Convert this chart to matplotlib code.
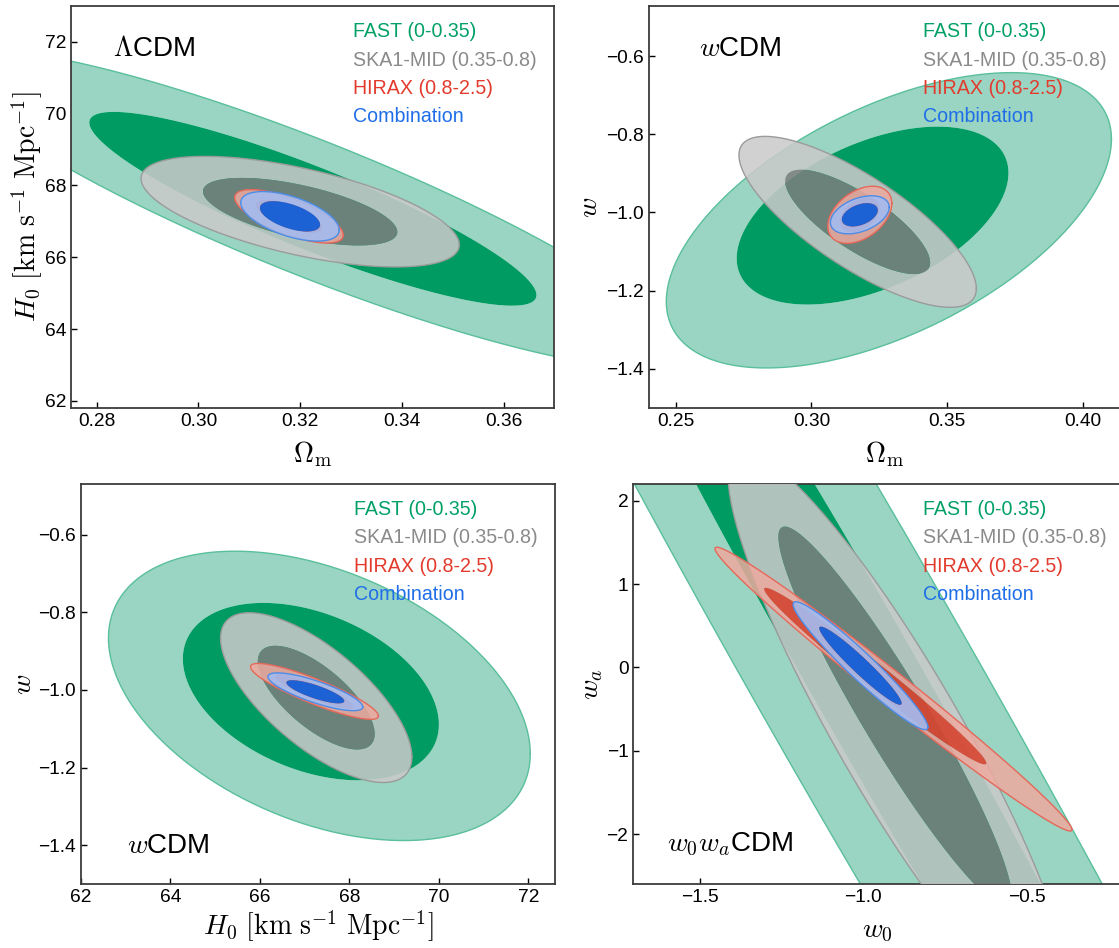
import numpy as np
import matplotlib
matplotlib.use("Agg")
import matplotlib.pyplot as plt
from matplotlib.path import Path
from matplotlib.patches import PathPatch

plt.rcParams['font.family'] = ['Liberation Sans', 'DejaVu Sans']
plt.rcParams['mathtext.fontset'] = 'cm'

# surveys, drawn in this order
names = ["FAST (0-0.35)", "SKA1-MID (0.35-0.8)", "HIRAX (0.8-2.5)", "Combination"]
text_colors = ["#00a066", "#8a8a8a", "#e23a2c", "#1f6ee8"]
inner_colors = ["#009b62", "#7e7e7e", "#d9442f", "#1d62d4"]
outer_colors = ["#99d5c2", "#cacaca", "#eeaa9f", "#a4bcf0"]
edge_colors = ["#5abf9b", "#9b9b9b", "#e5685a", "#4d8ce6"]
inner_alpha = [1.0, 0.85, 0.9, 1.0]
outer_alpha = [1.0, 0.87, 0.85, 0.9]

chi2_1s = 2.30
chi2_2s = 6.17

# contours: (x0, y0, sigma_x, sigma_y, rho) for the 1-sigma and 2-sigma line
# LCDM: Omega_m vs H0
lcdm_fast = [(0.3225, 67.35, 0.029, 1.78, -0.89), (0.3225, 67.35, 0.029, 1.78, -0.89)]
lcdm_ska = [(0.320, 67.27, 0.0126, 0.62, -0.60), (0.320, 67.27, 0.0126, 0.62, -0.60)]
lcdm_hirax = [(0.3178, 67.14, 0.0043, 0.30, -0.70), (0.3178, 67.14, 0.0043, 0.30, -0.70)]
lcdm_comb = [(0.3180, 67.14, 0.0039, 0.278, -0.55), (0.3180, 67.14, 0.0039, 0.278, -0.55)]

# wCDM: Omega_m vs w
wom_fast = [(0.3225, -1.008, 0.033, 0.150, 0.48), (0.3285, -1.020, 0.033, 0.152, 0.55)]
wom_ska = [(0.317, -1.024, 0.0176, 0.088, -0.78), (0.317, -1.024, 0.0176, 0.088, -0.78)]
wom_hirax = [(0.3178, -1.006, 0.00475, 0.0294, 0.40), (0.3178, -1.006, 0.00475, 0.0294, 0.40)]
wom_comb = [(0.3178, -1.006, 0.00436, 0.0196, 0.40), (0.3178, -1.006, 0.00436, 0.0196, 0.40)]

# wCDM: H0 vs w
wh0_fast = [(67.14, -1.0045, 1.885, 0.1506, -0.37), (67.33, -1.0155, 1.896, 0.150, -0.40)]
wh0_ska = [(67.26, -1.020, 0.86, 0.088, -0.70), (67.26, -1.020, 0.86, 0.088, -0.70)]
wh0_hirax = [(67.22, -1.004, 0.575, 0.029, -0.88), (67.22, -1.004, 0.575, 0.029, -0.88)]
wh0_comb = [(67.24, -1.005, 0.426, 0.0196, -0.80), (67.24, -1.005, 0.426, 0.0196, -0.80)]

# w0waCDM: w0 vs wa
w0wa_fast = [(-0.984, -0.20, 0.7311, 5.0, -0.985), (-0.984, -0.20, 0.7358, 5.0, -0.9785)]
w0wa_ska = [(-0.902, -0.59, 0.2353, 1.503, -0.945), (-0.889, -0.80, 0.2108, 1.369, -0.909)]
w0wa_hirax = [(-0.963, -0.105, 0.224, 0.699, -0.985), (-0.907, -0.261, 0.2198, 0.6856, -0.99)]
w0wa_comb = [(-1.008, 0.02, 0.083, 0.309, -0.96), (-1.008, 0.02, 0.083, 0.309, -0.96)]


def ellipse_pts(p, chi2, n=400):
    x0, y0, sx, sy, rho = p
    t = np.linspace(0, 2 * np.pi, n)
    k = np.sqrt(chi2)
    x = x0 + k * sx * np.cos(t)
    y = y0 + k * sy * (rho * np.cos(t) + np.sqrt(1 - rho ** 2) * np.sin(t))
    return np.column_stack([x, y])


def draw_survey(ax, conts, i):
    inner = ellipse_pts(conts[0], chi2_1s)
    outer = ellipse_pts(conts[1], chi2_2s)
    verts = np.vstack([outer, inner[::-1]])
    codes = np.full(len(verts), Path.LINETO)
    codes[0] = Path.MOVETO
    codes[len(outer)] = Path.MOVETO
    ring = PathPatch(Path(verts, codes), facecolor=outer_colors[i], edgecolor='none',
                     alpha=outer_alpha[i], zorder=2 + i)
    ax.add_patch(ring)
    ax.fill(inner[:, 0], inner[:, 1], color=inner_colors[i], alpha=inner_alpha[i],
            lw=0, zorder=2 + i)
    ax.plot(outer[:, 0], outer[:, 1], color=edge_colors[i], lw=1.0, zorder=2 + i)


fig = plt.figure(figsize=(11.19, 9.48), dpi=100)
ax1 = fig.add_axes([0.0638, 0.5696, 0.4316, 0.4241])
ax2 = fig.add_axes([0.5796, 0.5696, 0.4222, 0.4241])
ax3 = fig.add_axes([0.0721, 0.0675, 0.4242, 0.4219])
ax4 = fig.add_axes([0.5659, 0.0675, 0.4359, 0.4219])

panels = [
    (ax1, [lcdm_fast, lcdm_ska, lcdm_hirax, lcdm_comb], 0.583),
    (ax2, [wom_fast, wom_ska, wom_hirax, wom_comb], 0.580),
    (ax3, [wh0_fast, wh0_ska, wh0_hirax, wh0_comb], 0.575),
    (ax4, [w0wa_fast, w0wa_ska, w0wa_hirax, w0wa_comb], 0.595),
]
for ax, surveys, xleg in panels:
    for i, conts in enumerate(surveys):
        draw_survey(ax, conts, i)
    for i, name in enumerate(names):
        ax.text(xleg, 0.936 - 0.0705 * i, name, transform=ax.transAxes, color=text_colors[i],
                fontsize=14.1, va='center', ha='left', zorder=10)
    ax.tick_params(direction='in', length=4, width=1, labelsize=13.8, pad=3.5)
    for s in ax.spines.values():
        s.set_linewidth(1.3)
        s.set_color('#3c3c3c')

h0_label = r'$H_0\ [\mathrm{km\ s^{-1}\ Mpc^{-1}}]$'

ax1.set_xlim(0.275, 0.37)
ax1.set_ylim(61.8, 73.0)
ax1.set_xticks([0.28, 0.30, 0.32, 0.34, 0.36])
ax1.set_xticklabels(["0.28", "0.30", "0.32", "0.34", "0.36"])
ax1.set_yticks([62, 64, 66, 68, 70, 72])
ax1.set_xlabel(r'$\Omega_{\rm m}$', fontsize=20, labelpad=6.5)
ax1.set_ylabel(h0_label, fontsize=20, labelpad=0)
ax1.text(0.087, 0.876, r'$\Lambda$CDM', transform=ax1.transAxes, fontsize=20, zorder=10)

ax2.set_xlim(0.24, 0.414)
ax2.set_ylim(-1.5, -0.472)
ax2.set_xticks([0.25, 0.30, 0.35, 0.40])
ax2.set_xticklabels(["0.25", "0.30", "0.35", "0.40"])
ax2.set_yticks([-1.4, -1.2, -1.0, -0.8, -0.6])
ax2.set_yticklabels(["\u22121.4", "\u22121.2", "\u22121.0", "\u22120.8", "\u22120.6"])
ax2.set_xlabel(r'$\Omega_{\rm m}$', fontsize=20, labelpad=6.5)
ax2.set_ylabel(r'$w$', fontsize=20, labelpad=2)
ax2.text(0.106, 0.876, r'$w$CDM', transform=ax2.transAxes, fontsize=20, zorder=10)

ax3.set_xlim(62, 72.6)
ax3.set_ylim(-1.5, -0.47)
ax3.set_xticks([62, 64, 66, 68, 70, 72])
ax3.set_yticks([-1.4, -1.2, -1.0, -0.8, -0.6])
ax3.set_yticklabels(["\u22121.4", "\u22121.2", "\u22121.0", "\u22120.8", "\u22120.6"])
ax3.set_xlabel(h0_label, fontsize=20, labelpad=2)
ax3.set_ylabel(r'$w$', fontsize=20, labelpad=1)
ax3.text(0.097, 0.078, r'$w$CDM', transform=ax3.transAxes, fontsize=20, zorder=10)

ax4.set_xlim(-1.703, -0.211)
ax4.set_ylim(-2.6, 2.2)
ax4.set_xticks([-1.5, -1.0, -0.5])
ax4.set_xticklabels(["\u22121.5", "\u22121.0", "\u22120.5"])
ax4.set_yticks([-2, -1, 0, 1, 2])
ax4.set_xlabel(r'$w_0$', fontsize=20, labelpad=8.5)
ax4.set_ylabel(r'$w_a$', fontsize=20, labelpad=1)
ax4.text(0.069, 0.083, r'$w_0w_a$CDM', transform=ax4.transAxes, fontsize=20, zorder=10)

fig.savefig("out.png", dpi=100)
